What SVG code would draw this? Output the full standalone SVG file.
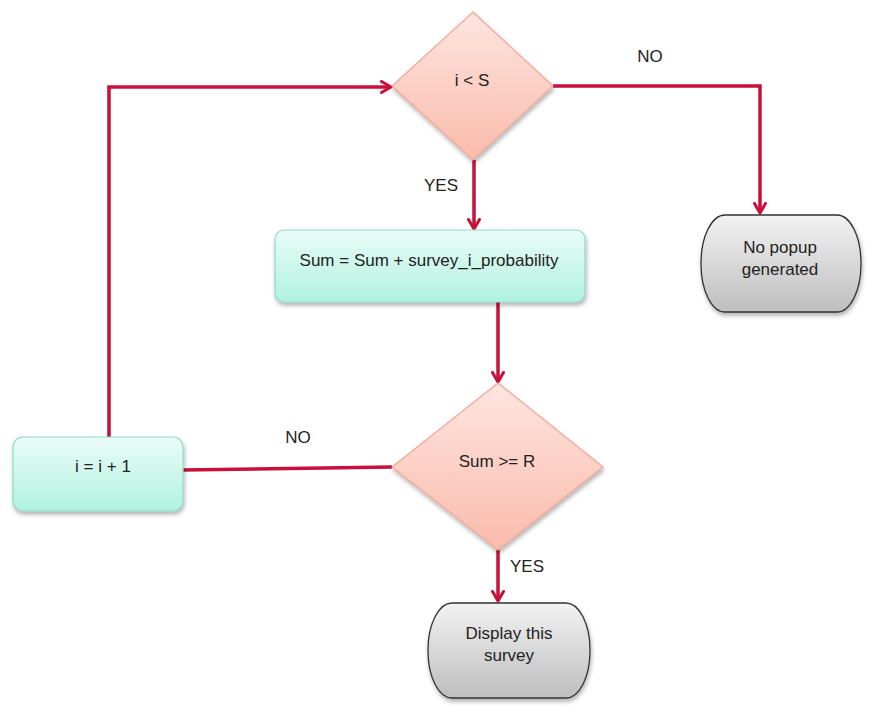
<svg xmlns="http://www.w3.org/2000/svg" width="869" height="717" viewBox="0 0 869 717">
<defs>
<linearGradient id="gDia" x1="0" y1="0" x2="0" y2="1"><stop offset="0" stop-color="#FEE5DF"/><stop offset="1" stop-color="#FABBAC"/></linearGradient>
<linearGradient id="gProc" x1="0" y1="0" x2="0" y2="1"><stop offset="0" stop-color="#EAFCF7"/><stop offset="1" stop-color="#B0F2DF"/></linearGradient>
<linearGradient id="gTerm" x1="0" y1="0" x2="0" y2="1"><stop offset="0" stop-color="#F2F2F2"/><stop offset="1" stop-color="#BEBEBE"/></linearGradient>
<filter id="sh" x="-10%" y="-10%" width="130%" height="130%"><feDropShadow dx="1" dy="3" stdDeviation="2" flood-color="#000" flood-opacity="0.3"/></filter>
<marker id="arr" viewBox="0 0 14 14" refX="11" refY="7" markerWidth="14" markerHeight="14" markerUnits="userSpaceOnUse" orient="auto"><path d="M1.5,1.5 L11,7 L1.5,12.5" fill="none" stroke="#C8103A" stroke-width="3" stroke-linecap="round" stroke-linejoin="round"/></marker>
</defs>
<style>
text{font-family:"Liberation Sans",Arial,sans-serif;font-size:17px;fill:#222;text-anchor:middle}
.dia{fill:url(#gDia);stroke:#F2A596;stroke-width:1.2;filter:url(#sh)}
.proc{fill:url(#gProc);stroke:#8FD9C5;stroke-width:1.2;filter:url(#sh)}
.term{fill:url(#gTerm);stroke:#333;stroke-width:1.3;filter:url(#sh)}
.conn{fill:none;stroke:#C8103A;stroke-width:3.5}
</style>
<rect width="869" height="717" fill="#fff"/>
<g id="connectors">
<path class="conn" d="M474,160 V229" marker-end="url(#arr)"/>
<path class="conn" d="M498,302 V382" marker-end="url(#arr)"/>
<path class="conn" d="M498,550 V601" marker-end="url(#arr)"/>
<path class="conn" d="M553,86 H760 V213" marker-end="url(#arr)"/>
<path class="conn" d="M392,467 L183,470"/>
<path class="conn" d="M109,437 V87 H391" marker-end="url(#arr)"/>
<text x="441" y="191">YES</text>
<text x="650" y="62">NO</text>
<text x="298" y="443">NO</text>
<text x="527" y="572">YES</text>
</g>
<g id="n-i-lt-s">
<path class="dia" d="M473,12 L553,86 L473,160 L392,86 Z"/>
<text x="472" y="86">i &lt; S</text>
</g>
<g id="n-sum">
<rect class="proc" x="275" y="230" width="310" height="72" rx="9"/>
<text x="429" y="266">Sum = Sum + survey_i_probability</text>
</g>
<g id="n-nopopup">
<rect class="term" x="701" y="215" width="160" height="97" rx="24" ry="48"/>
<text x="780" y="253">No popup</text>
<text x="780" y="275">generated</text>
</g>
<g id="n-sum-ge-r">
<path class="dia" d="M498,383 L603,467 L498,550 L392,467 Z"/>
<text x="497" y="467">Sum &gt;= R</text>
</g>
<g id="n-inc">
<rect class="proc" x="13" y="437" width="170" height="74" rx="10"/>
<text x="103" y="472">i = i + 1</text>
</g>
<g id="n-display">
<rect class="term" x="428" y="603" width="162" height="95" rx="24" ry="47"/>
<text x="509" y="639">Display this</text>
<text x="509" y="661">survey</text>
</g>
</svg>
